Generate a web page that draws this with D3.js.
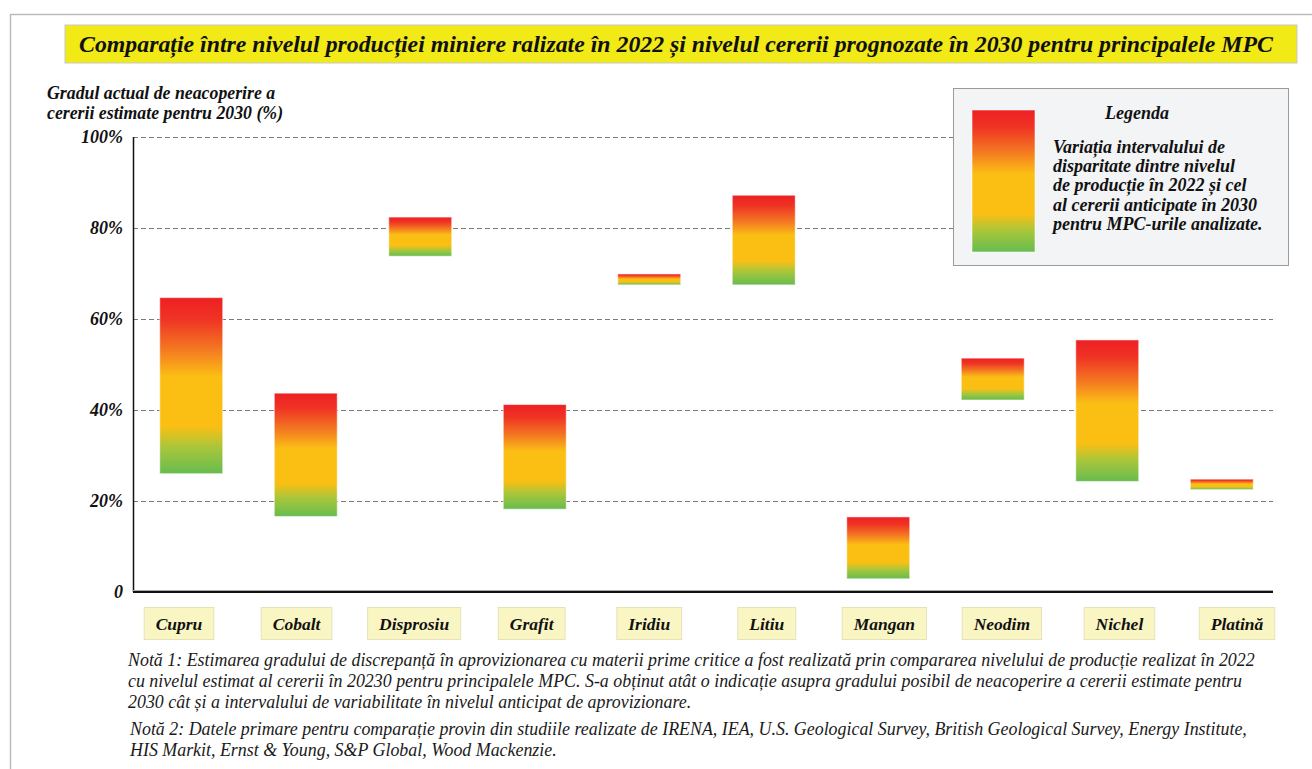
<!DOCTYPE html>
<html>
<head>
<meta charset="utf-8">
<script src="https://cdn.jsdelivr.net/npm/d3@7"></script>
<style>
  body { margin: 0; background: #fff; }
</style>
</head>
<body>
<div id="chart"></div>
<script>
// minerals and the interval of uncovered 2030 demand (%)
var minerals = ["Cupru", "Cobalt", "Disprosiu", "Grafit", "Iridiu", "Litiu", "Mangan", "Neodim", "Nichel", "Platină"];
var lowValues = [26.0, 16.6, 73.8, 18.2, 67.5, 67.5, 2.9, 42.2, 24.3, 22.5];
var highValues = [64.7, 43.7, 82.4, 41.2, 69.9, 87.2, 16.5, 51.4, 55.4, 24.8];
var yTicks = [0, 20, 40, 60, 80, 100];

var titleText = "Comparație între nivelul producției miniere ralizate în 2022 și nivelul cererii prognozate în 2030 pentru principalele MPC";
var yLabelLines = ["Gradul actual de neacoperire a", "cererii estimate pentru 2030 (%)"];
var legendTitle = "Legenda";
var legendLines = ["Variația intervalului de", "disparitate dintre nivelul", "de producție în 2022 și cel", "al cererii anticipate în 2030", "pentru MPC-urile analizate."];
var note1 = ["Notă 1: Estimarea gradului de discrepanță în aprovizionarea cu materii prime critice a fost realizată prin compararea nivelului de producție realizat în 2022",
             "cu nivelul estimat al cererii în 20230 pentru principalele MPC. S-a obținut atât o indicație asupra gradului posibil de neacoperire a cererii estimate pentru",
             "2030 cât și a intervalului de variabilitate în nivelul anticipat de aprovizionare."];
var note2 = ["Notă 2: Datele primare pentru comparație provin din studiile realizate de IRENA, IEA, U.S. Geological Survey, British Geological Survey, Energy Institute,",
             "HIS Markit, Ernst & Young, S&P Global, Wood Mackenzie."];

var width = 1312, height = 769;
var FONT = "Liberation Serif";

var rows = minerals.map(function(m, i) { return { name: m, lo: lowValues[i], hi: highValues[i] }; });

var svg = d3.select("#chart").append("svg").attr("width", width).attr("height", height);

// bold italic serif used almost everywhere
function bi(sel, size) {
  return sel.attr("font-family", FONT).attr("font-size", size)
    .attr("font-weight", "bold").attr("font-style", "italic").attr("fill", "#111");
}

// gradient red -> orange -> yellow -> green, top to bottom
var defs = svg.append("defs");
var grad = defs.append("linearGradient").attr("id", "gapGrad")
  .attr("x1", 0).attr("y1", 0).attr("x2", 0).attr("y2", 1);
[[0, "#ee2024"], [0.12, "#ef3324"], [0.3, "#f47b21"], [0.45, "#fbbf14"], [0.73, "#fbbf14"],
 [0.85, "#a9c63a"], [1, "#66bc50"]].forEach(function(s) {
  grad.append("stop").attr("offset", s[0]).attr("stop-color", s[1]);
});

// outer frame
svg.append("line").attr("x1", 10).attr("x2", width).attr("y1", 14.5).attr("y2", 14.5)
  .attr("stroke", "#bbb").attr("stroke-width", 1.5);
svg.append("line").attr("x1", 10.5).attr("x2", 10.5).attr("y1", 14).attr("y2", height)
  .attr("stroke", "#bbb").attr("stroke-width", 1.5);

// title
svg.append("rect").attr("x", 65).attr("y", 25).attr("width", 1232).attr("height", 38)
  .attr("fill", "#f2ea17").attr("stroke", "#c8c8c8");
bi(svg.append("text"), 23.8).attr("x", 676).attr("y", 52).attr("text-anchor", "middle")
  .text(titleText);

// y axis label
bi(svg.append("g").selectAll("text").data(yLabelLines).enter().append("text"), 17.8)
  .attr("x", 47).attr("y", function(d, i) { return 99 + i * 20; })
  .text(function(d) { return d; });

var x = d3.scaleBand().domain(minerals).range([134, 1279]).paddingInner(0.45).paddingOuter(0.225);
var y = d3.scaleLinear().domain([0, 100]).range([592, 137]);
var xLabel = d3.scalePoint().domain(minerals).range([179, 1237]);

// gridlines
svg.append("g").selectAll("line.grid").data(yTicks.filter(function(t) { return t > 0; })).enter()
  .append("line").attr("class", "grid")
  .attr("x1", 133).attr("x2", 1273)
  .attr("y1", function(d) { return Math.round(y(d)) + 0.5; })
  .attr("y2", function(d) { return Math.round(y(d)) + 0.5; })
  .attr("stroke", "#7a7a7a").attr("stroke-dasharray", "5,3");

// y tick labels
bi(svg.append("g").selectAll("text").data(yTicks).enter().append("text"), 18)
  .attr("x", 123).attr("y", function(d) { return y(d) + 6; })
  .attr("text-anchor", "end")
  .text(function(d) { return d === 0 ? "0" : d + "%"; });

// bars
svg.append("g").selectAll("rect.bar").data(rows).enter().append("rect")
  .attr("class", "bar")
  .attr("x", function(d) { return x(d.name); })
  .attr("width", x.bandwidth())
  .attr("y", function(d) { return y(d.hi); })
  .attr("height", function(d) { return y(d.lo) - y(d.hi); })
  .attr("fill", "url(#gapGrad)")
  .attr("stroke", "rgba(255,255,255,0.55)").attr("stroke-width", 1);

// axes lines
svg.append("line").attr("x1", 133.5).attr("x2", 133.5).attr("y1", 137).attr("y2", 592)
  .attr("stroke", "#111").attr("stroke-width", 1.5);
svg.append("line").attr("x1", 133).attr("x2", 1273).attr("y1", 590.5).attr("y2", 590.5)
  .attr("stroke", "#aaa").attr("stroke-width", 1);
svg.append("line").attr("x1", 133).attr("x2", 1273).attr("y1", 592).attr("y2", 592)
  .attr("stroke", "#111").attr("stroke-width", 2);

// category labels in pale boxes
var labels = svg.append("g").selectAll("g.cat").data(minerals).enter().append("g").attr("class", "cat");
bi(labels.append("text"), 17.5)
  .attr("x", function(d) { return xLabel(d); }).attr("y", 630)
  .attr("text-anchor", "middle")
  .text(function(d) { return d; });
labels.each(function(d) {
  var g = d3.select(this);
  var w = g.select("text").node().getComputedTextLength() + 23;
  g.insert("rect", "text")
    .attr("x", xLabel(d) - w / 2).attr("y", 607.5).attr("width", w).attr("height", 32)
    .attr("fill", "#faf6c3").attr("stroke", "#e6e2b8");
});

// legend
var lg = svg.append("g");
lg.append("rect").attr("x", 953.5).attr("y", 88.5).attr("width", 335).attr("height", 177)
  .attr("fill", "#f3f4f6").attr("stroke", "#9a9a9a");
lg.append("rect").attr("x", 972).attr("y", 110).attr("width", 63).attr("height", 142)
  .attr("fill", "url(#gapGrad)").attr("stroke", "rgba(255,255,255,0.55)");
bi(lg.append("text"), 18).attr("x", 1137).attr("y", 119).attr("text-anchor", "middle").text(legendTitle);
bi(lg.selectAll("text.line").data(legendLines).enter().append("text").attr("class", "line"), 18)
  .attr("x", 1053).attr("y", function(d, i) { return 153 + i * 19.2; })
  .text(function(d) { return d; });

// notes
function note(lines, x0, y0) {
  svg.append("g").selectAll("text").data(lines).enter().append("text")
    .attr("x", x0).attr("y", function(d, i) { return y0 + i * 21; })
    .attr("font-family", FONT).attr("font-size", 17.9).attr("font-style", "italic").attr("fill", "#1a1a1a")
    .text(function(d) { return d; });
}
note(note1, 128, 666);
note(note2, 130, 735);
</script>
</body>
</html>
